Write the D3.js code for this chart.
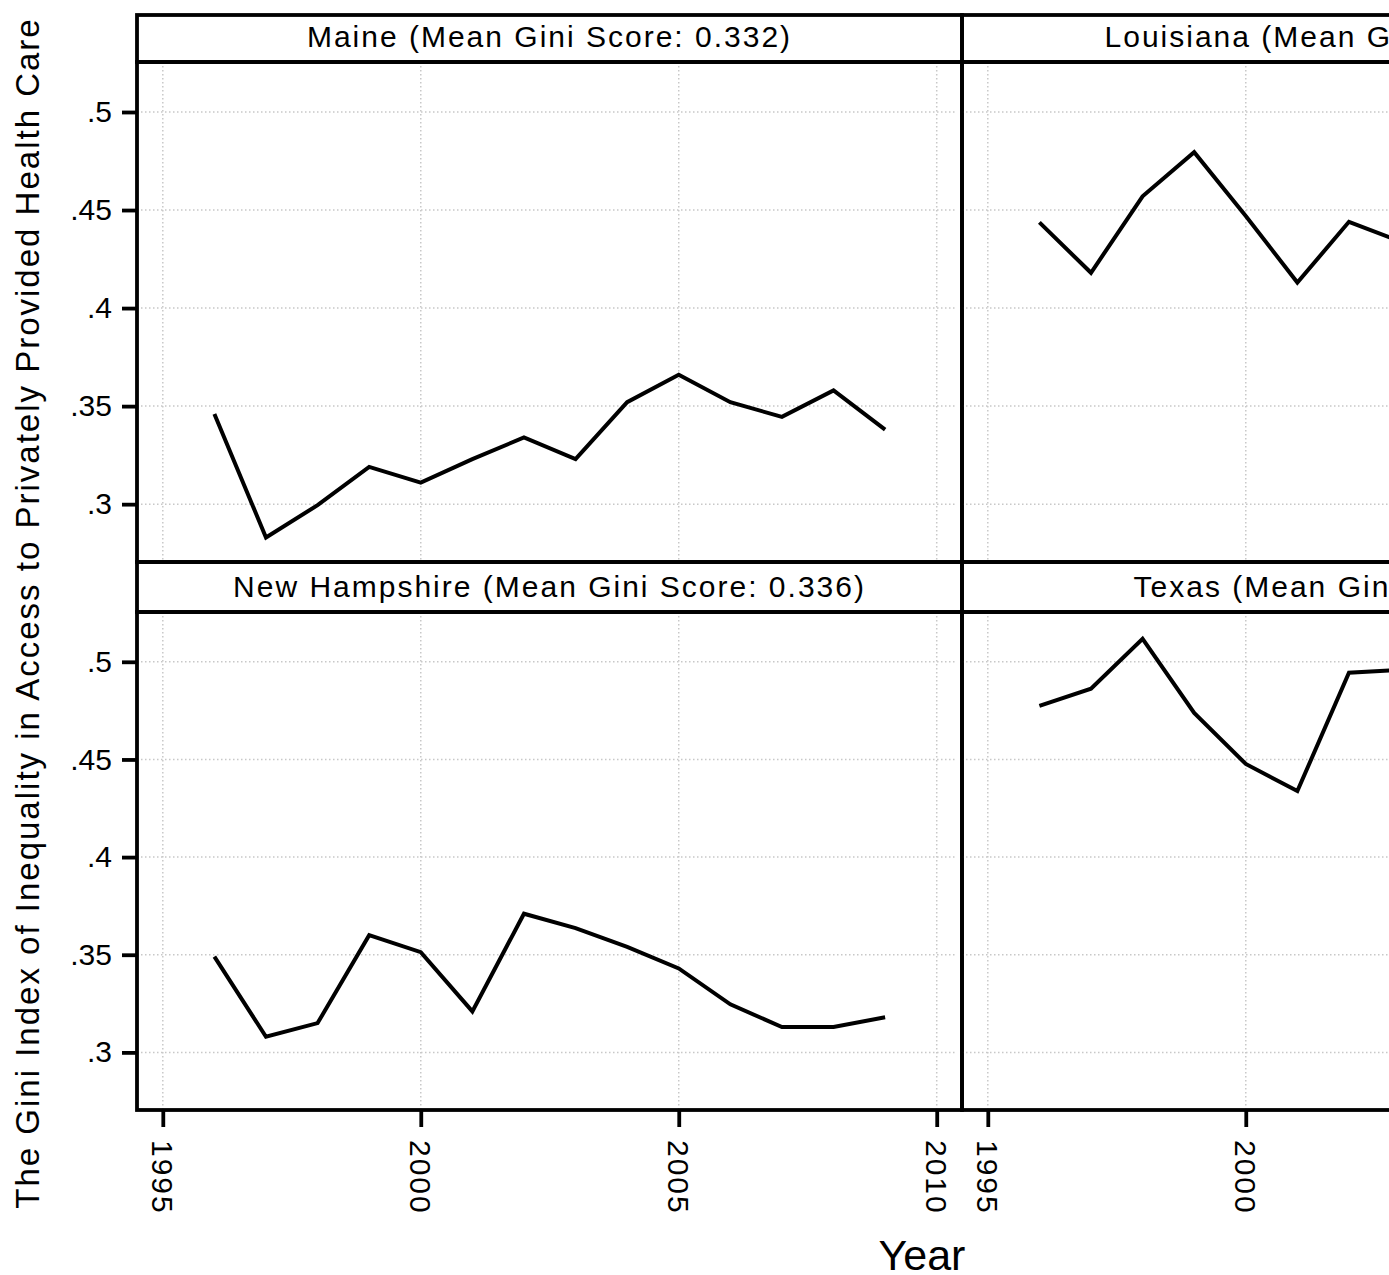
<!DOCTYPE html>
<html>
<head>
<meta charset="utf-8">
<script src="https://cdn.jsdelivr.net/npm/d3@7"></script>
<style>
  body { margin: 0; background: #fff; }
  svg { display: block; }
  text { font-family: "Liberation Sans", Arial, sans-serif; fill: #000; }
</style>
</head>
<body>
<div id="chart"></div>
<script>
// data
const years = [1996, 1997, 1998, 1999, 2000, 2001, 2002, 2003, 2004, 2005, 2006, 2007, 2008, 2009];
const maine = [0.346, 0.283, 0.2995, 0.319, 0.311, 0.323, 0.334, 0.323, 0.352, 0.366, 0.352, 0.3445, 0.358, 0.338];
const newHampshire = [0.349, 0.308, 0.315, 0.360, 0.3513, 0.321, 0.371, 0.3636, 0.354, 0.343, 0.3246, 0.313, 0.313, 0.318];
// right column is cut off by the picture edge, only the visible years
const louisiana = [0.4437, 0.418, 0.457, 0.4795, 0.447, 0.413, 0.444, 0.434];
const texas = [0.4774, 0.4862, 0.5118, 0.4738, 0.4477, 0.4338, 0.4944, 0.4959];

const panelTitles = [
  "Maine (Mean Gini Score: 0.332)",
  "Louisiana (Mean Gini Score: 0.441)",
  "New Hampshire (Mean Gini Score: 0.336)",
  "Texas (Mean Gini Score: 0.478)"
];
const xTicks = [1995, 2000, 2005, 2010];
const yTicks = [0.3, 0.35, 0.4, 0.45, 0.5];
const yTickLabels = [".3", ".35", ".4", ".45", ".5"];

const W = 1389, H = 1275;
const panelW = 825;
const left0 = 137;
const rows = [
  { stripTop: 15, plotTop: 62, plotBottom: 562 },
  { stripTop: 562, plotTop: 612, plotBottom: 1110 }
];
const lineW = 3.8;

const panels = [
  { title: panelTitles[0], values: maine, col: 0, row: 0 },
  { title: panelTitles[1], values: louisiana, col: 1, row: 0 },
  { title: panelTitles[2], values: newHampshire, col: 0, row: 1 },
  { title: panelTitles[3], values: texas, col: 1, row: 1 }
];

const svg = d3.select("#chart")
  .append("svg")
  .attr("width", W)
  .attr("height", H)
  .style("overflow", "hidden");

svg.append("rect").attr("width", W).attr("height", H).attr("fill", "#fff");

panels.forEach(p => {
  const r = rows[p.row];
  const x0 = left0 + p.col * panelW;

  const x = d3.scaleLinear().domain([1994.5, 2010.49]).range([x0, x0 + panelW]);
  const y = d3.scaleLinear().domain([0.2705, 0.5255]).range([r.plotBottom, r.plotTop]);

  const g = svg.append("g");

  // dotted grid
  g.selectAll(".vgrid")
    .data(xTicks)
    .enter()
    .append("line")
    .attr("x1", d => x(d)).attr("x2", d => x(d))
    .attr("y1", r.plotTop).attr("y2", r.plotBottom)
    .attr("stroke", "#c8c8c8")
    .attr("stroke-width", 1.5)
    .attr("stroke-dasharray", "1.5,2.5");

  g.selectAll(".hgrid")
    .data(yTicks)
    .enter()
    .append("line")
    .attr("x1", x0).attr("x2", x0 + panelW - 6)
    .attr("y1", d => y(d)).attr("y2", d => y(d))
    .attr("stroke", "#c8c8c8")
    .attr("stroke-width", 1.5)
    .attr("stroke-dasharray", "1.5,2.5");

  // series
  const line = d3.line()
    .x((d, i) => x(years[i]))
    .y(d => y(d));

  g.append("path")
    .datum(p.values)
    .attr("d", line)
    .attr("fill", "none")
    .attr("stroke", "#000")
    .attr("stroke-width", 4)
    .attr("stroke-linejoin", "miter");

  // strip + frame
  g.append("rect")
    .attr("x", x0).attr("y", r.stripTop)
    .attr("width", panelW).attr("height", r.plotTop - r.stripTop)
    .attr("fill", "none").attr("stroke", "#000").attr("stroke-width", lineW);

  g.append("rect")
    .attr("x", x0).attr("y", r.plotTop)
    .attr("width", panelW).attr("height", r.plotBottom - r.plotTop)
    .attr("fill", "none").attr("stroke", "#000").attr("stroke-width", lineW);

  g.append("text")
    .attr("x", x0 + panelW / 2)
    .attr("y", r.plotTop - 15)
    .attr("text-anchor", "middle")
    .attr("font-size", 30)
    .attr("letter-spacing", 2)
    .text(p.title);

  if (p.col === 0) {
    const ax = g.append("g")
      .attr("transform", `translate(${x0},0)`)
      .call(d3.axisLeft(y).tickValues(yTicks).tickSize(15).tickPadding(10)
        .tickFormat((d, i) => yTickLabels[i]));
    ax.select(".domain").remove();
    ax.selectAll(".tick line").attr("stroke", "#000").attr("stroke-width", lineW);
    ax.selectAll(".tick text")
      .attr("font-size", 30)
      .attr("font-family", null)
      .attr("fill", "#000");
  }

  if (p.row === 1) {
    const ax = g.append("g")
      .attr("transform", `translate(0,${r.plotBottom})`)
      .call(d3.axisBottom(x).tickValues(xTicks).tickSize(17).tickFormat(d3.format("d")));
    ax.select(".domain").remove();
    ax.selectAll(".tick line").attr("stroke", "#000").attr("stroke-width", lineW);
    ax.selectAll(".tick text")
      .attr("font-size", 30)
      .attr("font-family", null)
      .attr("fill", "#000")
      .attr("letter-spacing", 2)
      .attr("text-anchor", "start")
      .attr("transform", "rotate(90)")
      .attr("x", 30)
      .attr("y", 0)
      .attr("dy", "0.36em");
  }
});

svg.append("text")
  .attr("transform", "translate(39,613) rotate(-90)")
  .attr("text-anchor", "middle")
  .attr("font-size", 33)
  .attr("letter-spacing", 2)
  .text("The Gini Index of Inequality in Access to Privately Provided Health Care");

svg.append("text")
  .attr("x", 922)
  .attr("y", 1270)
  .attr("text-anchor", "middle")
  .attr("font-size", 43)
  .text("Year");
</script>
</body>
</html>
